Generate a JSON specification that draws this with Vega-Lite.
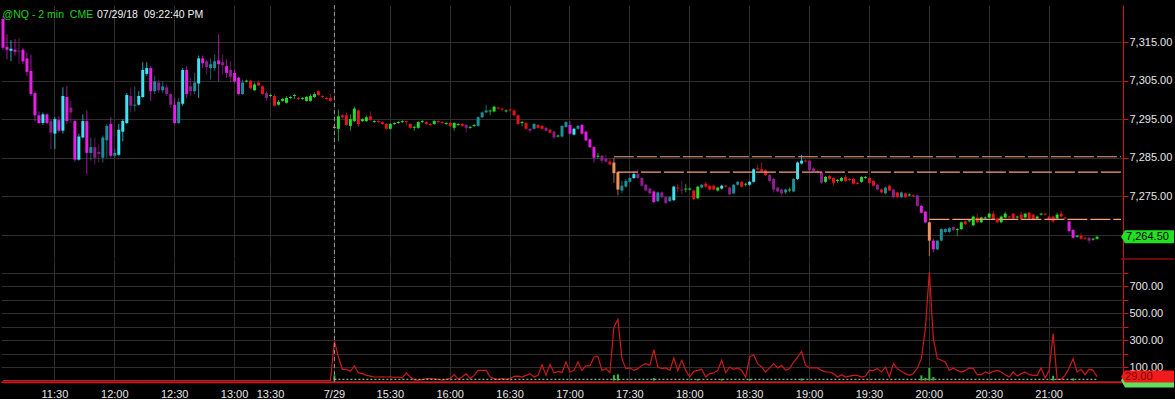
{
"$schema":"https://vega.github.io/schema/vega-lite/v6.json",
"background":"#000000",
"padding":{"left":0,"top":4,"right":0,"bottom":0},
"spacing":-3,
"title":{"text":"@NQ - 2 min\u00a0\u00a0CME","anchor":"start","color":"#1fd21f","font":"Liberation Sans","fontSize":10.5,"fontWeight":"normal","offset":-21,"dx":2,"baseline":"middle"},
"config":{"view":{"stroke":null},"mark":{"invalid":"break-paths-show-domains"},"axis":{"labelFont":"Liberation Sans","labelFontSize":11,"labelColor":"#e6e6e6","gridColor":"#2e2e2e","gridWidth":1},"legend":{"disable":true}},
"datasets":{
"levels":[{"t":"17:22","t2":"21:36","p":7285.25},{"t":"17:24","t2":"21:36","p":7281.25},{"t":"20:00","t2":"21:36","p":7269}],
"base":[{"t":"15:02","t2":"21:24","v":9}],
"edge":[{"t":"21:24","v":900}],
"session":[{"t":"15:02"}],
"bars":[
{"t":"11:04","o":7321,"h":7321.75,"l":7313,"c":7313.5,"k":"sd","v":0},
{"t":"11:06","o":7313.75,"h":7317,"l":7310.5,"c":7313,"k":"sd","v":0},
{"t":"11:08","o":7312.75,"h":7315.5,"l":7310,"c":7313.25,"k":"su","v":0},
{"t":"11:10","o":7313,"h":7315.75,"l":7311.5,"c":7312.5,"k":"sd","v":0},
{"t":"11:12","o":7312.75,"h":7316,"l":7309.25,"c":7312.5,"k":"wd","v":0},
{"t":"11:14","o":7313,"h":7313.5,"l":7309.25,"c":7310,"k":"sd","v":0},
{"t":"11:16","o":7310.75,"h":7312.25,"l":7306.25,"c":7307.25,"k":"sd","v":0},
{"t":"11:18","o":7307.5,"h":7311.75,"l":7301,"c":7301.5,"k":"sd","v":0},
{"t":"11:20","o":7301.75,"h":7302.25,"l":7294.5,"c":7296,"k":"sd","v":0},
{"t":"11:22","o":7296,"h":7297,"l":7293.75,"c":7294,"k":"sd","v":0},
{"t":"11:24","o":7294,"h":7296.75,"l":7293.5,"c":7296.25,"k":"su","v":0},
{"t":"11:26","o":7296.25,"h":7296.5,"l":7293.75,"c":7294,"k":"sd","v":0},
{"t":"11:28","o":7294.5,"h":7295,"l":7287.25,"c":7291.5,"k":"wd","v":0},
{"t":"11:30","o":7291.25,"h":7295.5,"l":7287.25,"c":7295,"k":"su","v":0},
{"t":"11:32","o":7294.75,"h":7295.75,"l":7291.5,"c":7292,"k":"sd","v":0},
{"t":"11:34","o":7292,"h":7303.25,"l":7291.25,"c":7301,"k":"su","v":0},
{"t":"11:36","o":7300.75,"h":7303.5,"l":7293.75,"c":7294.5,"k":"sd","v":0},
{"t":"11:38","o":7298,"h":7299.75,"l":7294,"c":7296.75,"k":"wd","v":0},
{"t":"11:40","o":7294.5,"h":7294.75,"l":7284,"c":7284.5,"k":"sd","v":0},
{"t":"11:42","o":7284.5,"h":7291.25,"l":7284.25,"c":7290.5,"k":"su","v":0},
{"t":"11:44","o":7290.25,"h":7296.25,"l":7290,"c":7294.5,"k":"su","v":0},
{"t":"11:46","o":7294.5,"h":7297.25,"l":7280.75,"c":7286.25,"k":"sd","v":0},
{"t":"11:48","o":7286.25,"h":7290.25,"l":7284.25,"c":7287.75,"k":"wu","v":0},
{"t":"11:50","o":7287.75,"h":7290.25,"l":7283.25,"c":7285,"k":"wd","v":0},
{"t":"11:52","o":7286.5,"h":7288.5,"l":7283.75,"c":7286,"k":"wd","v":0},
{"t":"11:54","o":7285,"h":7290.75,"l":7283.75,"c":7290.25,"k":"wu","v":0},
{"t":"11:56","o":7289.5,"h":7293.75,"l":7285,"c":7293.25,"k":"wu","v":0},
{"t":"11:58","o":7293.75,"h":7295.5,"l":7285,"c":7285.5,"k":"sd","v":0},
{"t":"12:00","o":7285.5,"h":7287.25,"l":7285,"c":7286.25,"k":"wu","v":0},
{"t":"12:02","o":7285.75,"h":7293.75,"l":7285.5,"c":7292.25,"k":"su","v":0},
{"t":"12:04","o":7291.75,"h":7295,"l":7289.25,"c":7294.5,"k":"su","v":0},
{"t":"12:06","o":7294,"h":7301.75,"l":7293.75,"c":7301.25,"k":"su","v":0},
{"t":"12:08","o":7301,"h":7303.25,"l":7296.75,"c":7298.5,"k":"wd","v":0},
{"t":"12:10","o":7298.5,"h":7303.5,"l":7297,"c":7298.75,"k":"wu","v":0},
{"t":"12:12","o":7298.75,"h":7302.25,"l":7298.5,"c":7301,"k":"su","v":0},
{"t":"12:14","o":7300.75,"h":7309.75,"l":7300.5,"c":7307.75,"k":"su","v":0},
{"t":"12:16","o":7306.75,"h":7309.75,"l":7306.25,"c":7308.25,"k":"su","v":0},
{"t":"12:18","o":7308.25,"h":7308.75,"l":7299.75,"c":7302.25,"k":"sd","v":0},
{"t":"12:20","o":7302.25,"h":7306.25,"l":7301.5,"c":7304.75,"k":"wu","v":0},
{"t":"12:22","o":7304.5,"h":7305.25,"l":7301.75,"c":7302.5,"k":"wd","v":0},
{"t":"12:24","o":7302.5,"h":7304.75,"l":7301.75,"c":7303.5,"k":"wu","v":0},
{"t":"12:26","o":7303.25,"h":7304,"l":7301,"c":7301.5,"k":"wd","v":0},
{"t":"12:28","o":7301.5,"h":7301.75,"l":7298,"c":7298.75,"k":"wd","v":0},
{"t":"12:30","o":7298.75,"h":7300.5,"l":7293.75,"c":7294,"k":"sd","v":0},
{"t":"12:32","o":7294,"h":7300.5,"l":7293.75,"c":7299.5,"k":"wu","v":0},
{"t":"12:34","o":7299,"h":7308.25,"l":7298.5,"c":7307.75,"k":"su","v":0},
{"t":"12:36","o":7307.75,"h":7308.75,"l":7300.5,"c":7301.5,"k":"sd","v":0},
{"t":"12:38","o":7303.5,"h":7305.75,"l":7301,"c":7302.25,"k":"wd","v":0},
{"t":"12:40","o":7302.25,"h":7307,"l":7301.5,"c":7304.5,"k":"wu","v":0},
{"t":"12:42","o":7304.25,"h":7311.5,"l":7300.5,"c":7310.75,"k":"su","v":0},
{"t":"12:44","o":7310.75,"h":7311.5,"l":7308.25,"c":7309.5,"k":"sd","v":0},
{"t":"12:46","o":7310,"h":7310.5,"l":7306.5,"c":7308.5,"k":"wd","v":0},
{"t":"12:48","o":7308.25,"h":7310.75,"l":7305.25,"c":7309.25,"k":"wu","v":0},
{"t":"12:50","o":7308.25,"h":7311.75,"l":7307.5,"c":7310,"k":"wu","v":0},
{"t":"12:52","o":7310.25,"h":7317,"l":7304.75,"c":7309.25,"k":"sd","v":0},
{"t":"12:54","o":7309.75,"h":7311.75,"l":7306.5,"c":7309,"k":"wd","v":0},
{"t":"12:56","o":7308.75,"h":7310.5,"l":7305.75,"c":7307,"k":"sd","v":0},
{"t":"12:58","o":7307.75,"h":7310,"l":7304.5,"c":7306,"k":"wd","v":0},
{"t":"13:00","o":7307,"h":7307.75,"l":7304.5,"c":7304.75,"k":"sd","v":0},
{"t":"13:02","o":7305.75,"h":7306,"l":7301.25,"c":7301.5,"k":"sd","v":0},
{"t":"13:04","o":7301.5,"h":7305.25,"l":7301.25,"c":7304.5,"k":"wu","v":0},
{"t":"13:06","o":7304.75,"h":7305.25,"l":7304.5,"c":7305,"k":"qu","v":0},
{"t":"13:08","o":7305,"h":7305.25,"l":7302.75,"c":7303,"k":"qd","v":0},
{"t":"13:10","o":7302.5,"h":7304.5,"l":7302.25,"c":7304,"k":"qu","v":0},
{"t":"13:12","o":7304.5,"h":7305,"l":7303.5,"c":7303.75,"k":"qd","v":0},
{"t":"13:14","o":7303.5,"h":7303.75,"l":7301.25,"c":7301.5,"k":"qd","v":0},
{"t":"13:16","o":7301.75,"h":7302.25,"l":7299.75,"c":7300.5,"k":"wd","v":0},
{"t":"13:30","o":7301,"h":7301.5,"l":7300.75,"c":7301.25,"k":"qu","v":0},
{"t":"13:32","o":7301,"h":7301.5,"l":7298.25,"c":7298.5,"k":"qd","v":0},
{"t":"13:34","o":7298.75,"h":7300,"l":7298.5,"c":7299.5,"k":"qu","v":0},
{"t":"13:36","o":7299.75,"h":7300.5,"l":7299.5,"c":7300.25,"k":"qu","v":0},
{"t":"13:38","o":7299.25,"h":7301,"l":7299,"c":7300.5,"k":"qu","v":0},
{"t":"13:40","o":7300.5,"h":7301,"l":7300.25,"c":7300.75,"k":"qu","v":0},
{"t":"13:42","o":7301,"h":7301.5,"l":7300.25,"c":7301.25,"k":"qu","v":0},
{"t":"13:44","o":7300.5,"h":7300.75,"l":7300,"c":7300.25,"k":"qd","v":0},
{"t":"13:46","o":7300.25,"h":7300.75,"l":7300,"c":7300.5,"k":"qu","v":0},
{"t":"13:48","o":7299.75,"h":7301,"l":7299.5,"c":7300.75,"k":"qu","v":0},
{"t":"13:50","o":7299.75,"h":7301.5,"l":7299.5,"c":7301,"k":"qu","v":0},
{"t":"13:52","o":7300.75,"h":7302,"l":7300.5,"c":7301.5,"k":"qu","v":0},
{"t":"13:54","o":7302.25,"h":7302.5,"l":7301,"c":7301.25,"k":"qd","v":0},
{"t":"13:56","o":7301,"h":7301.25,"l":7300.5,"c":7300.75,"k":"qd","v":0},
{"t":"13:58","o":7300.5,"h":7300.75,"l":7300,"c":7300.25,"k":"qd","v":0},
{"t":"14:00","o":7300.5,"h":7301.5,"l":7299.5,"c":7299.75,"k":"qd","v":0},
{"t":"15:02","o":7293,"h":7293.25,"l":7292.5,"c":7292.75,"k":"gap","v":293,"g":38},
{"t":"15:04","o":7292.5,"h":7297.5,"l":7289.25,"c":7295.75,"k":"qu","v":174},
{"t":"15:06","o":7296,"h":7296.25,"l":7295.25,"c":7295.5,"k":"qd","v":83},
{"t":"15:08","o":7296,"h":7296.75,"l":7293.25,"c":7293.5,"k":"qd","v":83},
{"t":"15:10","o":7293.25,"h":7296.25,"l":7292,"c":7295,"k":"qu","v":68},
{"t":"15:12","o":7294.5,"h":7298.25,"l":7294.25,"c":7297.75,"k":"qu","v":108},
{"t":"15:14","o":7297.25,"h":7297.5,"l":7293,"c":7293.75,"k":"qd","v":58},
{"t":"15:16","o":7294.5,"h":7295.25,"l":7294.25,"c":7295,"k":"qu","v":51},
{"t":"15:18","o":7294.5,"h":7296,"l":7294.25,"c":7295.5,"k":"qu","v":38},
{"t":"15:20","o":7295.75,"h":7297,"l":7294.5,"c":7294.75,"k":"qd","v":33},
{"t":"15:22","o":7294.25,"h":7294.75,"l":7294,"c":7294.5,"k":"qu","v":26},
{"t":"15:24","o":7294.5,"h":7294.75,"l":7294,"c":7294.25,"k":"qd","v":26},
{"t":"15:26","o":7294.25,"h":7294.5,"l":7293.5,"c":7293.75,"k":"qd","v":28},
{"t":"15:28","o":7293.75,"h":7294,"l":7292.25,"c":7292.5,"k":"qd","v":26},
{"t":"15:30","o":7292.5,"h":7294,"l":7292.25,"c":7293.75,"k":"qu","v":28},
{"t":"15:32","o":7293.75,"h":7294.25,"l":7293.5,"c":7294,"k":"qu","v":24},
{"t":"15:34","o":7294,"h":7294.5,"l":7293.75,"c":7294.25,"k":"qu","v":26},
{"t":"15:36","o":7294.25,"h":7294.75,"l":7294,"c":7294.5,"k":"qu","v":19},
{"t":"15:38","o":7294.5,"h":7294.5,"l":7293.5,"c":7294.25,"k":"qd","v":56},
{"t":"15:40","o":7293.75,"h":7294,"l":7292.5,"c":7292.75,"k":"qd","v":26},
{"t":"15:42","o":7292.75,"h":7293.25,"l":7292,"c":7293,"k":"qu","v":5},
{"t":"15:44","o":7292.75,"h":7294.5,"l":7292.5,"c":7294.25,"k":"qu","v":3},
{"t":"15:46","o":7294.25,"h":7294.75,"l":7294,"c":7294.5,"k":"qu","v":6},
{"t":"15:48","o":7294.25,"h":7294.5,"l":7293.5,"c":7293.75,"k":"qd","v":14},
{"t":"15:50","o":7293.75,"h":7294,"l":7293.25,"c":7293.5,"k":"qd","v":14},
{"t":"15:52","o":7293.75,"h":7294.75,"l":7293.5,"c":7294.5,"k":"qu","v":12},
{"t":"15:54","o":7294.5,"h":7294.75,"l":7294,"c":7294.25,"k":"qd","v":9},
{"t":"15:56","o":7294.25,"h":7294.5,"l":7293.75,"c":7294,"k":"qd","v":2},
{"t":"15:58","o":7293.75,"h":7294.25,"l":7293.5,"c":7294,"k":"qu","v":9},
{"t":"16:00","o":7294,"h":7294.25,"l":7293,"c":7293.25,"k":"qd","v":14},
{"t":"16:02","o":7292.75,"h":7294.25,"l":7292,"c":7294,"k":"qu","v":46},
{"t":"16:04","o":7293.5,"h":7294,"l":7293.25,"c":7293.75,"k":"qu","v":9},
{"t":"16:06","o":7293.75,"h":7294,"l":7293,"c":7293.25,"k":"qd","v":26},
{"t":"16:08","o":7293.5,"h":7293.75,"l":7291.5,"c":7292.75,"k":"wd","v":51},
{"t":"16:10","o":7292.75,"h":7293.25,"l":7292.5,"c":7293,"k":"qu","v":14},
{"t":"16:12","o":7293.25,"h":7293.75,"l":7293,"c":7293.5,"k":"qu","v":38},
{"t":"16:14","o":7293.25,"h":7295.75,"l":7293,"c":7295.5,"k":"wu","v":75},
{"t":"16:16","o":7295.5,"h":7297,"l":7295.25,"c":7296.75,"k":"wu","v":75},
{"t":"16:18","o":7296.75,"h":7298.75,"l":7296.5,"c":7297.25,"k":"wu","v":75},
{"t":"16:20","o":7297,"h":7297.5,"l":7296,"c":7297.25,"k":"qu","v":26},
{"t":"16:22","o":7297,"h":7298.5,"l":7296.75,"c":7298.25,"k":"qu","v":14},
{"t":"16:24","o":7298,"h":7298.25,"l":7297.5,"c":7297.75,"k":"qd","v":9},
{"t":"16:26","o":7297.75,"h":7298,"l":7297,"c":7297.5,"k":"qd","v":14},
{"t":"16:28","o":7297,"h":7297.5,"l":7296.75,"c":7297.25,"k":"qu","v":9},
{"t":"16:30","o":7297.5,"h":7297.75,"l":7297,"c":7297.25,"k":"qd","v":14},
{"t":"16:32","o":7297.25,"h":7297.5,"l":7295.75,"c":7296,"k":"qd","v":31},
{"t":"16:34","o":7296,"h":7296.25,"l":7293.5,"c":7293.75,"k":"qd","v":33},
{"t":"16:36","o":7294,"h":7294.5,"l":7293.25,"c":7294.25,"k":"qu","v":26},
{"t":"16:38","o":7294,"h":7294.25,"l":7292.25,"c":7292.5,"k":"qd","v":38},
{"t":"16:40","o":7292.5,"h":7292.75,"l":7291.5,"c":7292,"k":"wd","v":51},
{"t":"16:42","o":7292.5,"h":7294,"l":7292.25,"c":7293.75,"k":"wu","v":26},
{"t":"16:44","o":7293.5,"h":7293.75,"l":7292.5,"c":7292.75,"k":"qd","v":38},
{"t":"16:46","o":7293.25,"h":7293.5,"l":7292.25,"c":7292.5,"k":"qd","v":117},
{"t":"16:48","o":7292.75,"h":7293,"l":7291.75,"c":7292,"k":"wd","v":38},
{"t":"16:50","o":7292.25,"h":7292.5,"l":7291.25,"c":7291.5,"k":"qd","v":120},
{"t":"16:52","o":7291.75,"h":7292,"l":7289.75,"c":7290.25,"k":"wd","v":56},
{"t":"16:54","o":7290.5,"h":7291,"l":7290.25,"c":7290.75,"k":"qu","v":68},
{"t":"16:56","o":7290.5,"h":7293.5,"l":7290.25,"c":7293.25,"k":"wu","v":58},
{"t":"16:58","o":7293,"h":7294.5,"l":7292.75,"c":7294.25,"k":"wu","v":137},
{"t":"17:00","o":7293.5,"h":7294.5,"l":7291,"c":7291.25,"k":"sd","v":63},
{"t":"17:02","o":7291,"h":7292.75,"l":7290.75,"c":7292.5,"k":"su","v":75},
{"t":"17:04","o":7292.5,"h":7293.5,"l":7292.25,"c":7293.25,"k":"wu","v":137},
{"t":"17:06","o":7293.5,"h":7293.75,"l":7291,"c":7291.25,"k":"sd","v":75},
{"t":"17:08","o":7291.75,"h":7292,"l":7289.25,"c":7289.5,"k":"sd","v":108},
{"t":"17:10","o":7289.75,"h":7290,"l":7287.5,"c":7287.75,"k":"sd","v":108},
{"t":"17:12","o":7287.75,"h":7288,"l":7283.75,"c":7285,"k":"sd","v":174},
{"t":"17:14","o":7285.25,"h":7286.25,"l":7284.75,"c":7285.5,"k":"qu","v":179},
{"t":"17:16","o":7285.5,"h":7285.75,"l":7283.5,"c":7284.25,"k":"wd","v":75},
{"t":"17:18","o":7284.75,"h":7285.75,"l":7283.75,"c":7284,"k":"wd","v":88},
{"t":"17:20","o":7284,"h":7284.75,"l":7283,"c":7283.25,"k":"qd","v":58},
{"t":"17:22","o":7283.75,"h":7285,"l":7278.5,"c":7281,"k":"gap","v":396,"g":40},
{"t":"17:24","o":7281.25,"h":7281.5,"l":7275.25,"c":7276.75,"k":"gap","v":453,"g":46},
{"t":"17:26","o":7276.5,"h":7279,"l":7275.75,"c":7277.75,"k":"wu","v":162},
{"t":"17:28","o":7277.5,"h":7279.5,"l":7277.25,"c":7279,"k":"wu","v":88},
{"t":"17:30","o":7278.75,"h":7280,"l":7278.5,"c":7279.75,"k":"wu","v":93},
{"t":"17:32","o":7279.75,"h":7281.5,"l":7279.5,"c":7280.75,"k":"su","v":75},
{"t":"17:34","o":7280.75,"h":7282,"l":7279.5,"c":7279.75,"k":"wd","v":88},
{"t":"17:36","o":7279.75,"h":7280,"l":7277.5,"c":7277.75,"k":"wd","v":112},
{"t":"17:38","o":7278,"h":7278.25,"l":7276.25,"c":7276.5,"k":"wd","v":125},
{"t":"17:40","o":7277,"h":7277.25,"l":7275.5,"c":7275.75,"k":"wd","v":112},
{"t":"17:42","o":7276.25,"h":7276.5,"l":7273.25,"c":7273.5,"k":"sd","v":228,"g":18},
{"t":"17:44","o":7273.75,"h":7276.25,"l":7273.5,"c":7276,"k":"wu","v":100},
{"t":"17:46","o":7276,"h":7276.25,"l":7274.5,"c":7274.75,"k":"wd","v":88},
{"t":"17:48","o":7274.75,"h":7275,"l":7273,"c":7273.25,"k":"wd","v":93},
{"t":"17:50","o":7273.75,"h":7275,"l":7273.5,"c":7274.75,"k":"wu","v":75},
{"t":"17:52","o":7274,"h":7277.75,"l":7273.75,"c":7277.5,"k":"su","v":167},
{"t":"17:54","o":7277.25,"h":7278.25,"l":7276,"c":7277,"k":"qd","v":75},
{"t":"17:56","o":7276.75,"h":7279,"l":7275.5,"c":7276.5,"k":"wd","v":150},
{"t":"17:58","o":7276.75,"h":7278.25,"l":7276,"c":7277,"k":"qu","v":75},
{"t":"18:00","o":7276.75,"h":7277.25,"l":7276.5,"c":7277,"k":"qu","v":26},
{"t":"18:02","o":7276.5,"h":7276.75,"l":7274,"c":7274.25,"k":"qd","v":68},
{"t":"18:04","o":7274.5,"h":7277.75,"l":7274.25,"c":7277.5,"k":"qu","v":75,"g":12},
{"t":"18:06","o":7277.25,"h":7278.25,"l":7277,"c":7278,"k":"wu","v":83},
{"t":"18:08","o":7278.25,"h":7278.75,"l":7277,"c":7277.5,"k":"qd","v":26},
{"t":"18:10","o":7277.75,"h":7278,"l":7276.5,"c":7276.75,"k":"qd","v":51},
{"t":"18:12","o":7277.75,"h":7278,"l":7276.5,"c":7276.75,"k":"qd","v":56},
{"t":"18:14","o":7276.5,"h":7277.5,"l":7276.25,"c":7277.25,"k":"qu","v":75},
{"t":"18:16","o":7277,"h":7278,"l":7276.75,"c":7277.75,"k":"su","v":150,"g":12},
{"t":"18:18","o":7277.75,"h":7278,"l":7277.25,"c":7277.5,"k":"qd","v":58},
{"t":"18:20","o":7277.25,"h":7277.5,"l":7275.25,"c":7275.5,"k":"wd","v":100},
{"t":"18:22","o":7275.75,"h":7278.25,"l":7275.5,"c":7278,"k":"wu","v":83},
{"t":"18:24","o":7278,"h":7279,"l":7277.75,"c":7278.75,"k":"wu","v":93},
{"t":"18:26","o":7278.75,"h":7279,"l":7277.25,"c":7277.5,"k":"qd","v":75},
{"t":"18:28","o":7278,"h":7278.5,"l":7277.5,"c":7278.25,"k":"qu","v":26},
{"t":"18:30","o":7278,"h":7279,"l":7277.75,"c":7278.75,"k":"su","v":174,"g":12},
{"t":"18:32","o":7278.75,"h":7282.25,"l":7278.5,"c":7282,"k":"su","v":191},
{"t":"18:34","o":7282.25,"h":7283.25,"l":7281.75,"c":7282,"k":"qd","v":125},
{"t":"18:36","o":7282,"h":7283.75,"l":7281.25,"c":7281.5,"k":"qd","v":100},
{"t":"18:38","o":7281.75,"h":7282,"l":7280.25,"c":7280.5,"k":"qd","v":63},
{"t":"18:40","o":7280.5,"h":7280.75,"l":7278.75,"c":7279,"k":"wd","v":93},
{"t":"18:42","o":7279.5,"h":7279.75,"l":7276,"c":7276.75,"k":"wd","v":125},
{"t":"18:44","o":7277.25,"h":7277.5,"l":7276,"c":7276.25,"k":"wd","v":93},
{"t":"18:46","o":7276.75,"h":7277,"l":7275.25,"c":7275.75,"k":"wd","v":112},
{"t":"18:48","o":7276,"h":7277,"l":7275.5,"c":7276.75,"k":"wu","v":75},
{"t":"18:50","o":7276.5,"h":7277.25,"l":7276,"c":7276.75,"k":"qu","v":88},
{"t":"18:52","o":7276.25,"h":7279.75,"l":7276,"c":7279.5,"k":"wu","v":137},
{"t":"18:54","o":7279.5,"h":7284,"l":7279.25,"c":7283.75,"k":"su","v":174},
{"t":"18:56","o":7283.5,"h":7285.75,"l":7283.25,"c":7284.25,"k":"su","v":216,"g":15},
{"t":"18:58","o":7284.25,"h":7284.5,"l":7283.75,"c":7284,"k":"qd","v":112},
{"t":"19:00","o":7284.25,"h":7284.5,"l":7281.5,"c":7281.75,"k":"wd","v":93},
{"t":"19:02","o":7282.25,"h":7282.5,"l":7281.25,"c":7281.5,"k":"wd","v":93},
{"t":"19:04","o":7281.5,"h":7281.75,"l":7281,"c":7281.25,"k":"qd","v":93},
{"t":"19:06","o":7281.25,"h":7281.5,"l":7278.25,"c":7278.5,"k":"wd","v":75},
{"t":"19:08","o":7278.75,"h":7280.25,"l":7278.5,"c":7280,"k":"qu","v":63},
{"t":"19:10","o":7280.25,"h":7280.5,"l":7279.25,"c":7279.5,"k":"qd","v":63},
{"t":"19:12","o":7279.75,"h":7280,"l":7277.75,"c":7278.5,"k":"qd","v":51},
{"t":"19:14","o":7279,"h":7279.5,"l":7278.5,"c":7279.25,"k":"qu","v":26},
{"t":"19:16","o":7279,"h":7280,"l":7278.75,"c":7279.75,"k":"qu","v":43},
{"t":"19:18","o":7280,"h":7280.5,"l":7278.75,"c":7279,"k":"qd","v":26},
{"t":"19:20","o":7279.5,"h":7279.75,"l":7279,"c":7279.25,"k":"qd","v":33},
{"t":"19:22","o":7279.5,"h":7279.75,"l":7278,"c":7278.25,"k":"qd","v":38},
{"t":"19:24","o":7278.5,"h":7278.75,"l":7278,"c":7278.25,"k":"qd","v":38},
{"t":"19:26","o":7278.75,"h":7280.25,"l":7278.5,"c":7280,"k":"qu","v":26},
{"t":"19:28","o":7279.75,"h":7280.25,"l":7279.5,"c":7280,"k":"qu","v":33},
{"t":"19:30","o":7279.75,"h":7280,"l":7278.25,"c":7278.5,"k":"qd","v":75},
{"t":"19:32","o":7279,"h":7279.25,"l":7277.5,"c":7277.75,"k":"qd","v":75},
{"t":"19:34","o":7278,"h":7278.25,"l":7276.5,"c":7276.75,"k":"wd","v":88},
{"t":"19:36","o":7276.75,"h":7277,"l":7275.75,"c":7276,"k":"qd","v":63},
{"t":"19:38","o":7275.75,"h":7277.5,"l":7275.5,"c":7277.25,"k":"wu","v":100},
{"t":"19:40","o":7277.75,"h":7278,"l":7276.25,"c":7276.5,"k":"qd","v":26},
{"t":"19:42","o":7276.75,"h":7277,"l":7274.5,"c":7274.75,"k":"wd","v":125},
{"t":"19:44","o":7276,"h":7276.25,"l":7274.5,"c":7274.75,"k":"qd","v":88},
{"t":"19:46","o":7274.75,"h":7276.25,"l":7274.5,"c":7276,"k":"wu","v":68},
{"t":"19:48","o":7275.75,"h":7276,"l":7274.5,"c":7274.75,"k":"qd","v":51},
{"t":"19:50","o":7275.25,"h":7275.75,"l":7275,"c":7275.5,"k":"qu","v":38},
{"t":"19:52","o":7275.25,"h":7275.5,"l":7274.75,"c":7275,"k":"qd","v":51},
{"t":"19:54","o":7275.25,"h":7275.5,"l":7272.25,"c":7272.5,"k":"wd","v":93},
{"t":"19:56","o":7272.5,"h":7272.75,"l":7270.5,"c":7270.75,"k":"sd","v":162,"g":38},
{"t":"19:58","o":7271,"h":7271.25,"l":7268,"c":7268.25,"k":"sd","v":384,"g":20},
{"t":"20:00","o":7268.25,"h":7268.5,"l":7259.5,"c":7263.5,"k":"gap","v":804,"g":93},
{"t":"20:02","o":7263.5,"h":7264,"l":7260.5,"c":7261.25,"k":"sd","v":310,"g":26},
{"t":"20:04","o":7261.25,"h":7263.75,"l":7261,"c":7263.5,"k":"wu","v":162},
{"t":"20:06","o":7263.5,"h":7266.75,"l":7263.25,"c":7266.5,"k":"wu","v":150},
{"t":"20:08","o":7265.75,"h":7266.75,"l":7265.5,"c":7266.5,"k":"wu","v":137},
{"t":"20:10","o":7265.75,"h":7267,"l":7265.5,"c":7266.75,"k":"wu","v":75},
{"t":"20:12","o":7267,"h":7267.25,"l":7266,"c":7266.25,"k":"wd","v":93},
{"t":"20:14","o":7266.25,"h":7266.75,"l":7264.75,"c":7266.5,"k":"qu","v":75},
{"t":"20:16","o":7266.5,"h":7268.5,"l":7266.25,"c":7268.25,"k":"qu","v":63},
{"t":"20:18","o":7268.5,"h":7268.75,"l":7267.5,"c":7267.75,"k":"qd","v":75},
{"t":"20:20","o":7268.5,"h":7269,"l":7268.25,"c":7268.75,"k":"qu","v":93},
{"t":"20:22","o":7267.5,"h":7270,"l":7267.25,"c":7269.75,"k":"qu","v":88},
{"t":"20:24","o":7269.5,"h":7270.5,"l":7268,"c":7268.25,"k":"qd","v":43},
{"t":"20:26","o":7268.25,"h":7269.75,"l":7268,"c":7269.5,"k":"qu","v":43},
{"t":"20:28","o":7269.25,"h":7269.75,"l":7269,"c":7269.5,"k":"qu","v":63},
{"t":"20:30","o":7269.5,"h":7270.75,"l":7269.25,"c":7270.5,"k":"qu","v":51},
{"t":"20:32","o":7270.5,"h":7271.25,"l":7268.75,"c":7269,"k":"qd","v":68},
{"t":"20:34","o":7269.25,"h":7269.5,"l":7268,"c":7268.25,"k":"qd","v":75},
{"t":"20:36","o":7268.25,"h":7270,"l":7268,"c":7269.75,"k":"qu","v":63},
{"t":"20:38","o":7269.5,"h":7271,"l":7269.25,"c":7270.5,"k":"qu","v":43},
{"t":"20:40","o":7269.75,"h":7270,"l":7269.25,"c":7269.5,"k":"qd","v":26},
{"t":"20:42","o":7270.5,"h":7270.75,"l":7269,"c":7269.25,"k":"qd","v":63},
{"t":"20:44","o":7269.5,"h":7270,"l":7269.25,"c":7269.75,"k":"qu","v":33},
{"t":"20:46","o":7270.25,"h":7271,"l":7268.75,"c":7269,"k":"qd","v":51},
{"t":"20:48","o":7269.5,"h":7270.75,"l":7269.25,"c":7270.5,"k":"qu","v":63},
{"t":"20:50","o":7270.75,"h":7271,"l":7269,"c":7269.25,"k":"qd","v":43},
{"t":"20:52","o":7270.25,"h":7270.5,"l":7268.75,"c":7269,"k":"qd","v":38},
{"t":"20:54","o":7269.25,"h":7270,"l":7269,"c":7269.75,"k":"qu","v":38},
{"t":"20:56","o":7270.25,"h":7270.75,"l":7270,"c":7270.5,"k":"qu","v":93},
{"t":"20:58","o":7270.5,"h":7270.75,"l":7270,"c":7270.25,"k":"qd","v":19},
{"t":"21:00","o":7269.75,"h":7270,"l":7268.5,"c":7269,"k":"qd","v":75},
{"t":"21:02","o":7269.75,"h":7270,"l":7268,"c":7268.5,"k":"qd","v":347,"g":35},
{"t":"21:04","o":7269.25,"h":7270.75,"l":7269,"c":7270.25,"k":"qu","v":9},
{"t":"21:06","o":7270.5,"h":7271.25,"l":7269.5,"c":7269.75,"k":"qd","v":9},
{"t":"21:08","o":7269.5,"h":7269.75,"l":7269,"c":7269.25,"k":"qd","v":38},
{"t":"21:10","o":7268.5,"h":7268.75,"l":7265.75,"c":7266,"k":"sd","v":93},
{"t":"21:12","o":7266.25,"h":7266.5,"l":7264,"c":7264.25,"k":"sd","v":162,"g":15},
{"t":"21:14","o":7264.5,"h":7265,"l":7264.25,"c":7264.75,"k":"qu","v":63},
{"t":"21:16","o":7264.75,"h":7265.5,"l":7263.75,"c":7264,"k":"qd","v":83},
{"t":"21:18","o":7264.25,"h":7264.5,"l":7263.75,"c":7264,"k":"qd","v":43},
{"t":"21:20","o":7264.25,"h":7264.5,"l":7262.75,"c":7263.5,"k":"wd","v":83},
{"t":"21:22","o":7263.75,"h":7264.25,"l":7263.5,"c":7264,"k":"qu","v":75},
{"t":"21:24","o":7264,"h":7264.75,"l":7263.75,"c":7264.5,"k":"qu","v":29,"g":0},
{"t":"21:26"},{"t":"21:28"},{"t":"21:30"},{"t":"21:32"},{"t":"21:34"},{"t":"21:36"}
]},
"vconcat":[
{
"width":1122,"height":253,
"title":{"text":"07/29/18\u00a0\u00a009:22:40 PM","anchor":"start","color":"#f2f2f2","font":"Liberation Sans","fontSize":10.5,"fontWeight":"normal","offset":-21,"dx":96,"baseline":"middle"},
"data":{"name":"bars"},
"layer":[
{"mark":{"type":"rule","strokeWidth":1,"opacity":0.7},
 "encoding":{
  "x":{"field":"t","type":"ordinal","scale":{"type":"band","paddingInner":0,"paddingOuter":0},
   "axis":{"title":null,"values":["11:30","12:00","12:30","13:00","13:30","15:02","15:30","16:00","16:30","17:00","17:30","18:00","18:30","19:00","19:30","20:00","20:30","21:00"],"labels":false,"ticks":false,"domain":false,"grid":true}},
  "y":{"field":"l","type":"quantitative","scale":{"domain":[7259,7324.6],"nice":false,"zero":false},
   "axis":{"title":null,"orient":"right","values":[7265,7270,7275,7280,7285,7290,7295,7300,7305,7310,7315,7320],
    "labelExpr":"(datum.value % 10 == 5 && datum.value > 7270) ? format(datum.value, ',.2f') : ''",
    "domainColor":"#e01010","tickColor":"#e01010","tickSize":5,"labelPadding":1,"grid":true}},
  "y2":{"field":"h"},
  "color":{"field":"k","type":"nominal","scale":{"domain":["sd","wd","su","wu","qd","qu","gap"],"range":["#e61ee6","#8e1f8e","#3ce4f4","#1d8f96","#e4141c","#26dc26","#f2905c"]},"legend":null}}},
{"mark":{"type":"bar","width":{"band":0.75}},
 "encoding":{
  "x":{"field":"t","type":"ordinal","scale":{"type":"band","paddingInner":0,"paddingOuter":0}},
  "y":{"field":"o","type":"quantitative","scale":{"domain":[7259,7324.6],"nice":false,"zero":false}},
  "y2":{"field":"c"},
  "color":{"field":"k","type":"nominal","scale":{"domain":["sd","wd","su","wu","qd","qu","gap"],"range":["#e61ee6","#8e1f8e","#3ce4f4","#1d8f96","#e4141c","#26dc26","#f2905c"]},"legend":null}}},
{"data":{"name":"session"},"mark":{"type":"rule","color":"#9a9a9a","strokeDash":[4,3],"strokeWidth":1},
 "encoding":{"x":{"field":"t","type":"ordinal","scale":{"type":"band","paddingInner":0,"paddingOuter":0}}}},
{"data":{"name":"levels"},"mark":{"type":"rule","color":"#f4a07c","strokeDash":[20,3],"strokeWidth":1.2},
 "encoding":{
  "x":{"field":"t","type":"ordinal","scale":{"type":"band","paddingInner":0,"paddingOuter":0}},
  "x2":{"field":"t2"},
  "y":{"field":"p","type":"quantitative","scale":{"domain":[7259,7324.6],"nice":false,"zero":false}}}},
{"transform":[{"filter":"datum.t == '21:24'"}],
 "mark":{"type":"point","shape":"M24,0L28,-6.5L77,-6.5L77,6.5L28,6.5Z","size":4,"filled":true,"color":"#22e022","opacity":1,"strokeWidth":0},
 "encoding":{
  "x":{"field":"t","type":"ordinal","scale":{"type":"band","paddingInner":0,"paddingOuter":0}},
  "y":{"field":"c","type":"quantitative","scale":{"domain":[7259,7324.6],"nice":false,"zero":false}}}},
{"transform":[{"filter":"datum.t == '21:24'"}],
 "mark":{"type":"text","dx":29,"align":"left","baseline":"middle","font":"Liberation Sans","fontSize":11,"color":"#000000"},
 "encoding":{
  "x":{"field":"t","type":"ordinal","scale":{"type":"band","paddingInner":0,"paddingOuter":0}},
  "y":{"field":"c","type":"quantitative","scale":{"domain":[7259,7324.6],"nice":false,"zero":false}},
  "text":{"field":"c","type":"quantitative","format":",.2f"}}}
]
},
{
"width":1122,"height":123,
"data":{"name":"bars"},
"layer":[
{"mark":{"type":"line","color":"#d01818","strokeWidth":1.2},
 "encoding":{
  "x":{"field":"t","type":"ordinal","scale":{"type":"band","paddingInner":0,"paddingOuter":0},
   "axis":{"title":null,"values":["11:30","12:00","12:30","13:00","13:30","15:02","15:30","16:00","16:30","17:00","17:30","18:00","18:30","19:00","19:30","20:00","20:30","21:00"],
    "labelExpr":"datum.value == '15:02' ? '7/29' : datum.value","labelAngle":0,"ticks":false,"labelPadding":6,"domainColor":"#e01010","domainWidth":1.5,"grid":true}},
  "y":{"field":"v","type":"quantitative","scale":{"domain":[-11,900],"nice":false,"zero":false},
   "axis":{"title":null,"orient":"right","values":[0,100,200,300,400,500,600,700,800],"labelExpr":"datum.value % 200 == 100 ? format(datum.value, '.2f') : ''","domainColor":"#e01010","tickColor":"#e01010","tickSize":5,"labelPadding":1,"grid":true}}}},
{"mark":{"type":"bar","width":{"band":0.5},"color":"#3cb83c"},
 "encoding":{
  "x":{"field":"t","type":"ordinal","scale":{"type":"band","paddingInner":0,"paddingOuter":0}},
  "y":{"field":"g","type":"quantitative","scale":{"domain":[-11,900],"nice":false,"zero":false},
   "axis":{"title":null,"orient":"right","values":[0,100,200,300,400,500,600,700,800],"labelExpr":"datum.value % 200 == 100 ? format(datum.value, '.2f') : ''","domainColor":"#e01010","tickColor":"#e01010","tickSize":5,"labelPadding":1,"grid":true}}}},
{"data":{"name":"session"},"mark":{"type":"rule","color":"#9a9a9a","strokeDash":[4,3],"strokeWidth":1},
 "encoding":{"x":{"field":"t","type":"ordinal","scale":{"type":"band","paddingInner":0,"paddingOuter":0}}}},
{"data":{"name":"base"},"mark":{"type":"rule","color":"#a8d8a8","strokeDash":[2,2],"strokeWidth":1},
 "encoding":{
  "x":{"field":"t","type":"ordinal","scale":{"type":"band","paddingInner":0,"paddingOuter":0}},
  "x2":{"field":"t2"},
  "y":{"field":"v","type":"quantitative","scale":{"domain":[-11,900],"nice":false,"zero":false},
   "axis":{"title":null,"orient":"right","values":[0,100,200,300,400,500,600,700,800],"labelExpr":"datum.value % 200 == 100 ? format(datum.value, '.2f') : ''","domainColor":"#e01010","tickColor":"#e01010","tickSize":5,"labelPadding":1,"grid":true}}}},
{"data":{"name":"edge"},
 "mark":{"type":"point","shape":"M24,0L77,0","size":4,"filled":false,"color":"#e01010","opacity":1,"strokeWidth":1},
 "encoding":{
  "x":{"field":"t","type":"ordinal","scale":{"type":"band","paddingInner":0,"paddingOuter":0}},
  "y":{"field":"v","type":"quantitative","scale":{"domain":[-11,900],"nice":false,"zero":false},
   "axis":{"title":null,"orient":"right","values":[0,100,200,300,400,500,600,700,800],"labelExpr":"datum.value % 200 == 100 ? format(datum.value, '.2f') : ''","domainColor":"#e01010","tickColor":"#e01010","tickSize":5,"labelPadding":1,"grid":true}}}},
{"transform":[{"filter":"datum.t == '21:24'"}],
 "mark":{"type":"point","shape":"M24,0L28,-7L77,-7L77,7L28,7Z","size":4,"filled":true,"color":"#5fe05f","opacity":1,"strokeWidth":0},
 "encoding":{
  "x":{"field":"t","type":"ordinal","scale":{"type":"band","paddingInner":0,"paddingOuter":0}},
  "y":{"field":"g","type":"quantitative","scale":{"domain":[-11,900],"nice":false,"zero":false},
   "axis":{"title":null,"orient":"right","values":[0,100,200,300,400,500,600,700,800],"labelExpr":"datum.value % 200 == 100 ? format(datum.value, '.2f') : ''","domainColor":"#e01010","tickColor":"#e01010","tickSize":5,"labelPadding":1,"grid":true}}}},
{"transform":[{"filter":"datum.t == '21:24'"}],
 "mark":{"type":"point","shape":"M24,0L28,-6L77,-6L77,6L28,6Z","size":4,"filled":true,"color":"#f01c1c","opacity":1,"strokeWidth":0},
 "encoding":{
  "x":{"field":"t","type":"ordinal","scale":{"type":"band","paddingInner":0,"paddingOuter":0}},
  "y":{"field":"v","type":"quantitative","scale":{"domain":[-11,900],"nice":false,"zero":false},
   "axis":{"title":null,"orient":"right","values":[0,100,200,300,400,500,600,700,800],"labelExpr":"datum.value % 200 == 100 ? format(datum.value, '.2f') : ''","domainColor":"#e01010","tickColor":"#e01010","tickSize":5,"labelPadding":1,"grid":true}}}},
{"transform":[{"filter":"datum.t == '21:24'"}],
 "mark":{"type":"text","dx":28,"align":"left","baseline":"middle","font":"Liberation Sans","fontSize":11,"color":"#7a0000"},
 "encoding":{
  "x":{"field":"t","type":"ordinal","scale":{"type":"band","paddingInner":0,"paddingOuter":0}},
  "y":{"field":"v","type":"quantitative","scale":{"domain":[-11,900],"nice":false,"zero":false},
   "axis":{"title":null,"orient":"right","values":[0,100,200,300,400,500,600,700,800],"labelExpr":"datum.value % 200 == 100 ? format(datum.value, '.2f') : ''","domainColor":"#e01010","tickColor":"#e01010","tickSize":5,"labelPadding":1,"grid":true}},
  "text":{"field":"v","type":"quantitative","format":".2f"}}}
]
}
]
}
